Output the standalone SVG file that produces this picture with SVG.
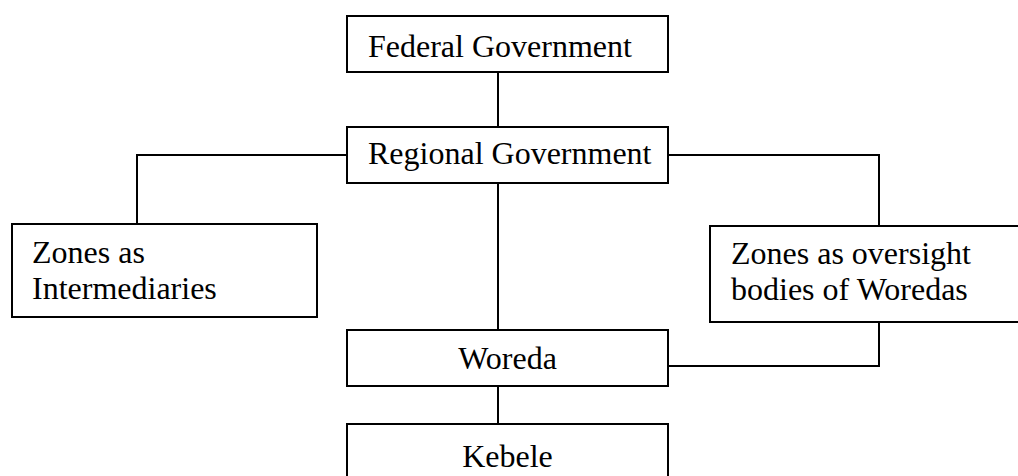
<svg xmlns="http://www.w3.org/2000/svg" width="1018" height="476" viewBox="0 0 1018 476">
<style>
.box{fill:#fff;stroke:#000;stroke-width:2}
.ln{fill:none;stroke:#000;stroke-width:2}
text{font-family:"Liberation Serif","Times New Roman",serif;font-size:32px;fill:#000}
</style>
<rect width="1018" height="476" fill="#fff"/>
<g id="connectors">
<line class="ln" x1="498" y1="72" x2="498" y2="127"/>
<polyline class="ln" points="347,155 137,155 137,224"/>
<polyline class="ln" points="668,155 879,155 879,226"/>
<line class="ln" x1="498" y1="183" x2="498" y2="330"/>
<polyline class="ln" points="879,322 879,366 668,366"/>
<line class="ln" x1="498" y1="386" x2="498" y2="424"/>
</g>
<g id="federal"><rect class="box" x="347" y="16" width="321" height="56"/><text x="368" y="57">Federal Government</text></g>
<g id="regional"><rect class="box" x="347" y="127" width="321" height="56"/><text x="368" y="164">Regional Government</text></g>
<g id="zones-intermediaries"><rect class="box" x="12" y="224" width="305" height="93"/><text x="32" y="263">Zones as</text><text x="32" y="299">Intermediaries</text></g>
<g id="zones-oversight"><rect class="box" x="710" y="226" width="320" height="96"/><text x="731" y="264">Zones as oversight</text><text x="731" y="300">bodies of Woredas</text></g>
<g id="woreda"><rect class="box" x="347" y="330" width="321" height="56"/><text x="507.5" y="369" text-anchor="middle">Woreda</text></g>
<g id="kebele"><rect class="box" x="347" y="424" width="321" height="70"/><text x="507.5" y="467" text-anchor="middle">Kebele</text></g>
</svg>
